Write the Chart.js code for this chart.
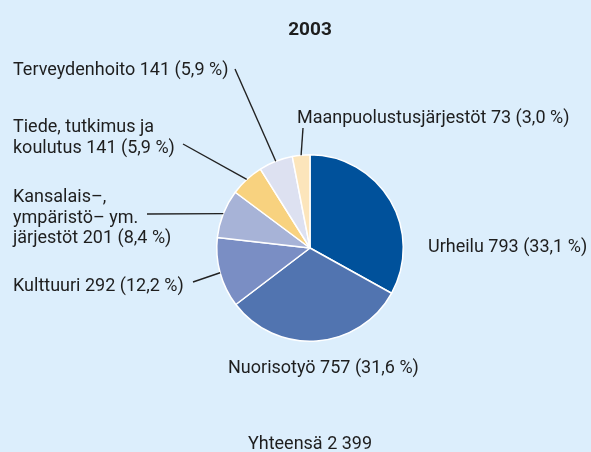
<!DOCTYPE html>
<html>
<head>
<meta charset="utf-8">
<script src="https://cdn.jsdelivr.net/npm/chart.js@4"></script>
<style>
  body { margin: 0; background: #dceefc; }
  canvas { display: block; }
</style>
</head>
<body>
<canvas id="chart" width="591" height="452"></canvas>
<script>
const title = '2003';
const categories = ['Urheilu', 'Nuorisotyö', 'Kulttuuri', 'Kansalais–,\nympäristö– ym.\njärjestöt', 'Tiede, tutkimus ja\nkoulutus', 'Terveydenhoito', 'Maanpuolustusjärjestöt'];
const values = [793, 757, 292, 201, 141, 141, 73];
const total = 2399; // as printed under the chart
const colors = ['#00519b', '#5174b0', '#7a8ec4', '#a7b3d7', '#f8d27f', '#dde1f1', '#fce5bb'];

const fmtNum = n => String(n).replace(/\B(?=(\d{3})+(?!\d))/g, ' ');
const labelText = i => {
    const pct = (values[i] / total * 100).toFixed(1).replace('.', ',');
    return (categories[i] + ' ' + fmtNum(values[i]) + ' (' + pct + ' %)').split('\n');
};

// where each label sits: x, first baseline, optional leader start
const labelPos = [
    { x: 428, y: 252 },
    { x: 228, y: 373 },
    { x: 13, y: 291, lx: 193, ly: 282 },
    { x: 13, y: 202, lx: 147, ly: 214 },
    { x: 13, y: 132, lx: 183, ly: 144 },
    { x: 13, y: 75, lx: 235, ly: 69 },
    { x: 297, y: 123, lx: 303, ly: 128 }
];

const labelPlugin = {
    id: 'labels',
    afterDraw(chart) {
        const ctx = chart.ctx;
        const arcs = chart.getDatasetMeta(0).data;
        ctx.save();
        ctx.fillStyle = '#1e1e1e';
        ctx.strokeStyle = '#222';
        ctx.lineWidth = 1.4;
        ctx.font = '18px Roboto';
        ctx.textAlign = 'left';
        ctx.textBaseline = 'alphabetic';
        arcs.forEach((arc, i) => {
            const p = labelPos[i];
            labelText(i).forEach((line, k) => ctx.fillText(line, p.x, p.y + k * 20.5));
            if (p.lx !== undefined) {
                const mid = (arc.startAngle + arc.endAngle) / 2;
                ctx.beginPath();
                ctx.moveTo(p.lx, p.ly);
                ctx.lineTo(arc.x + Math.cos(mid) * arc.outerRadius, arc.y + Math.sin(mid) * arc.outerRadius);
                ctx.stroke();
            }
        });
        ctx.font = 'bold 19px Roboto';
        ctx.textAlign = 'center';
        ctx.fillText(title, 310, 35);
        ctx.font = '18px Roboto';
        ctx.fillText('Yhteensä ' + fmtNum(total), 310, 449);
        ctx.restore();
    }
};

new Chart(document.getElementById('chart'), {
    type: 'pie',
    data: {
        labels: categories,
        datasets: [{
            data: values,
            backgroundColor: colors,
            borderColor: '#ffffff',
            borderWidth: 1.5
        }]
    },
    options: {
        responsive: false,
        animation: false,
        layout: { padding: { left: 216, right: 187, top: 154, bottom: 110 } },
        plugins: {
            legend: { display: false },
            tooltip: { enabled: false }
        }
    },
    plugins: [labelPlugin]
});
</script>
</body>
</html>
